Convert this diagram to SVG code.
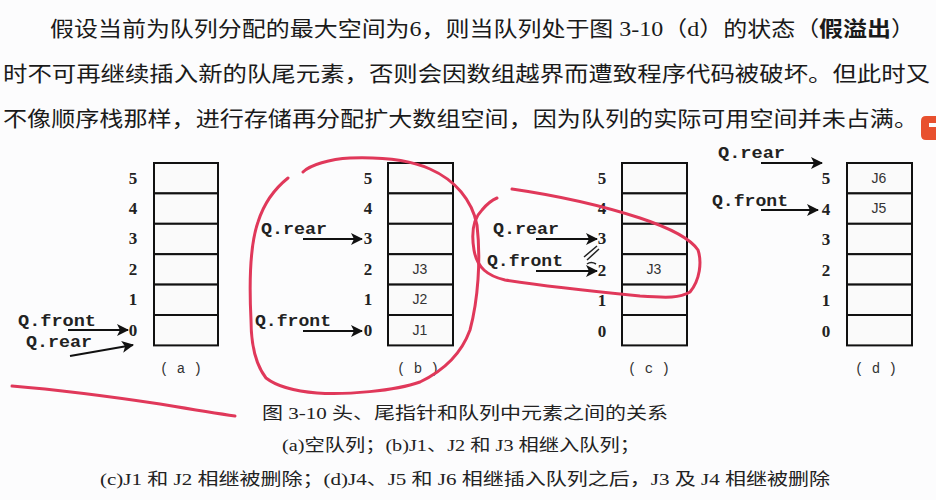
<svg xmlns="http://www.w3.org/2000/svg" width="936" height="500" viewBox="0 0 936 500">
<defs>
<style>
.bg{fill:#fcfcfd}
.para{font-family:"Liberation Serif","Noto Sans CJK SC",serif;font-size:21px;fill:#1a1a1a}
.cap{font-family:"Liberation Serif","Noto Sans CJK SC",serif;font-size:16.5px;fill:#222}
.idx{font-family:"Liberation Serif",serif;font-size:17px;font-weight:bold;fill:#222;text-anchor:middle}
.ptr{font-family:"Liberation Mono",monospace;font-size:16px;font-weight:bold;fill:#222}
.sub{font-family:"Liberation Mono",monospace;font-size:14px;fill:#333;text-anchor:middle}
.val{font-family:"Liberation Sans",sans-serif;font-size:14px;fill:#333;text-anchor:middle}
.cell{fill:#fafafa;stroke:#111;stroke-width:2}
.arr{stroke:#111;stroke-width:2.2;fill:none;marker-end:url(#ah)}
.pen{stroke:#e0385a;stroke-width:3;fill:none;stroke-linecap:round;stroke-linejoin:round}
</style>
<marker id="ah" markerUnits="userSpaceOnUse" markerWidth="12" markerHeight="12" refX="11" refY="6" orient="auto">
<path d="M0,0 L12,6 L0,12 L3,6 z" fill="#111"/>
</marker>
</defs>
<rect class="bg" x="0" y="0" width="936" height="500"/>

<g id="paragraph">
<text class="para" x="50" y="36" textLength="865" lengthAdjust="spacingAndGlyphs">假设当前为队列分配的最大空间为6，则当队列处于图 3-10（d）的状态（<tspan font-weight="bold">假溢出</tspan>）</text>
<text class="para" x="3" y="81" textLength="927" lengthAdjust="spacingAndGlyphs">时不可再继续插入新的队尾元素，否则会因数组越界而遭致程序代码被破坏。但此时又</text>
<text class="para" x="3" y="126" textLength="915" lengthAdjust="spacingAndGlyphs">不像顺序栈那样，进行存储再分配扩大数组空间，因为队列的实际可用空间并未占满。</text>
</g>

<g id="queue-a">
<rect class="cell" x="154" y="163" width="64" height="30.4"/>
<rect class="cell" x="154" y="193.4" width="64" height="30.4"/>
<rect class="cell" x="154" y="223.8" width="64" height="30.4"/>
<rect class="cell" x="154" y="254.2" width="64" height="30.4"/>
<rect class="cell" x="154" y="284.6" width="64" height="30.4"/>
<rect class="cell" x="154" y="315" width="64" height="30.4"/>
<text class="idx" x="133" y="184">5</text>
<text class="idx" x="133" y="214">4</text>
<text class="idx" x="133" y="244">3</text>
<text class="idx" x="133" y="275">2</text>
<text class="idx" x="133" y="305">1</text>
<text class="idx" x="133" y="336">0</text>
<text class="sub" x="181" y="373">( a )</text>
</g>

<g id="queue-b">
<rect class="cell" x="388" y="163" width="65" height="30.4"/>
<rect class="cell" x="388" y="193.4" width="65" height="30.4"/>
<rect class="cell" x="388" y="223.8" width="65" height="30.4"/>
<rect class="cell" x="388" y="254.2" width="65" height="30.4"/>
<rect class="cell" x="388" y="284.6" width="65" height="30.4"/>
<rect class="cell" x="388" y="315" width="65" height="30.4"/>
<text class="val" x="420" y="274">J3</text>
<text class="val" x="420" y="304">J2</text>
<text class="val" x="420" y="335">J1</text>
<text class="idx" x="368" y="184">5</text>
<text class="idx" x="368" y="214">4</text>
<text class="idx" x="368" y="244">3</text>
<text class="idx" x="368" y="275">2</text>
<text class="idx" x="368" y="305">1</text>
<text class="idx" x="368" y="336">0</text>
<text class="sub" x="418" y="373">( b )</text>
</g>

<g id="queue-c">
<rect class="cell" x="622" y="163" width="65" height="30.4"/>
<rect class="cell" x="622" y="193.4" width="65" height="30.4"/>
<rect class="cell" x="622" y="223.8" width="65" height="30.4"/>
<rect class="cell" x="622" y="254.2" width="65" height="30.4"/>
<rect class="cell" x="622" y="284.6" width="65" height="30.4"/>
<rect class="cell" x="622" y="315" width="65" height="30.4"/>
<text class="val" x="654" y="274">J3</text>
<text class="idx" x="602" y="184">5</text>
<text class="idx" x="602" y="214">4</text>
<text class="idx" x="602" y="244">3</text>
<text class="idx" x="602" y="276">2</text>
<text class="idx" x="602" y="306">1</text>
<text class="idx" x="602" y="337">0</text>
<text class="sub" x="649" y="373">( c )</text>
</g>

<g id="queue-d">
<rect class="cell" x="847" y="163" width="65" height="30.4"/>
<rect class="cell" x="847" y="193.4" width="65" height="30.4"/>
<rect class="cell" x="847" y="223.8" width="65" height="30.4"/>
<rect class="cell" x="847" y="254.2" width="65" height="30.4"/>
<rect class="cell" x="847" y="284.6" width="65" height="30.4"/>
<rect class="cell" x="847" y="315" width="65" height="30.4"/>
<text class="val" x="879" y="183">J6</text>
<text class="val" x="879" y="213">J5</text>
<text class="idx" x="826" y="184">5</text>
<text class="idx" x="826" y="215">4</text>
<text class="idx" x="826" y="245">3</text>
<text class="idx" x="826" y="276">2</text>
<text class="idx" x="826" y="306">1</text>
<text class="idx" x="826" y="337">0</text>
<text class="sub" x="876" y="373">( d )</text>
</g>

<g id="pointer-labels">
<text class="ptr" x="18" y="326" textLength="78" lengthAdjust="spacingAndGlyphs">Q.front</text>
<text class="ptr" x="26" y="347" textLength="66" lengthAdjust="spacingAndGlyphs">Q.rear</text>
<text class="ptr" x="261" y="234" textLength="66" lengthAdjust="spacingAndGlyphs">Q.rear</text>
<text class="ptr" x="255" y="326" textLength="76" lengthAdjust="spacingAndGlyphs">Q.front</text>
<text class="ptr" x="493" y="234" textLength="66" lengthAdjust="spacingAndGlyphs">Q.rear</text>
<text class="ptr" x="487" y="266" textLength="76" lengthAdjust="spacingAndGlyphs">Q.front</text>
<text class="ptr" x="718" y="158" textLength="67" lengthAdjust="spacingAndGlyphs">Q.rear</text>
<text class="ptr" x="712" y="206" textLength="76" lengthAdjust="spacingAndGlyphs">Q.front</text>
</g>

<g id="connectors">
<line class="arr" x1="68" y1="330" x2="128" y2="330"/>
<line class="arr" x1="70" y1="356" x2="133" y2="345"/>
<line class="arr" x1="303" y1="239" x2="362" y2="239"/>
<line class="arr" x1="303" y1="331" x2="362" y2="331"/>
<line class="arr" x1="536" y1="239" x2="597" y2="239"/>
<line class="arr" x1="536" y1="271" x2="597" y2="271"/>
<line class="arr" x1="761" y1="163" x2="822" y2="163"/>
<line class="arr" x1="761" y1="210" x2="818" y2="210"/>
<path d="M584,257 L597,246 M587,260 L599,249 M587,264 Q591,261 596,264" stroke="#222" stroke-width="1.5" fill="none"/>
</g>

<g id="caption">
<text class="cap" x="262" y="419" textLength="406" lengthAdjust="spacingAndGlyphs">图 3-10 头、尾指针和队列中元素之间的关系</text>
<text class="cap" x="282" y="451" textLength="358" lengthAdjust="spacingAndGlyphs">(a)空队列；(b)J1、J2 和 J3 相继入队列；</text>
<text class="cap" x="100" y="485" textLength="730" lengthAdjust="spacingAndGlyphs">(c)J1 和 J2 相继被删除；(d)J4、J5 和 J6 相继插入队列之后，J3 及 J4 相继被删除</text>
</g>

<g id="pen-marks">
<path class="pen" d="M303,172 C310,165 330,159 350,158 C380,157 410,160 430,169 C455,180 472,200 477,225 C481,260 478,300 470,330 C462,352 445,370 420,382 C395,391 345,395 317,393 C292,391 275,385 266,378 C256,365 251,345 251,320 C249,280 250,245 258,222 C265,200 278,186 288,178"/>
<path class="pen" d="M512,189 C560,196 600,205 640,218 C670,228 690,238 698,250 C702,262 700,280 690,292 C680,298 668,298 640,296 C600,292 550,287 505,280 C488,276 477,268 474,250 C471,232 474,218 482,210 C487,204 492,200 497,198"/>
<path class="pen" d="M12,386 C60,390 120,398 160,404 C190,409 214,413 235,416" stroke-width="4"/>
<path d="M936,116 L926,116 Q921,116 921,121 L921,135 Q921,140 926,140 L936,140 Z M929,123 L936,123 L936,127 L929,127 Z" fill="#e8502e" fill-rule="evenodd"/>
</g>
</svg>
